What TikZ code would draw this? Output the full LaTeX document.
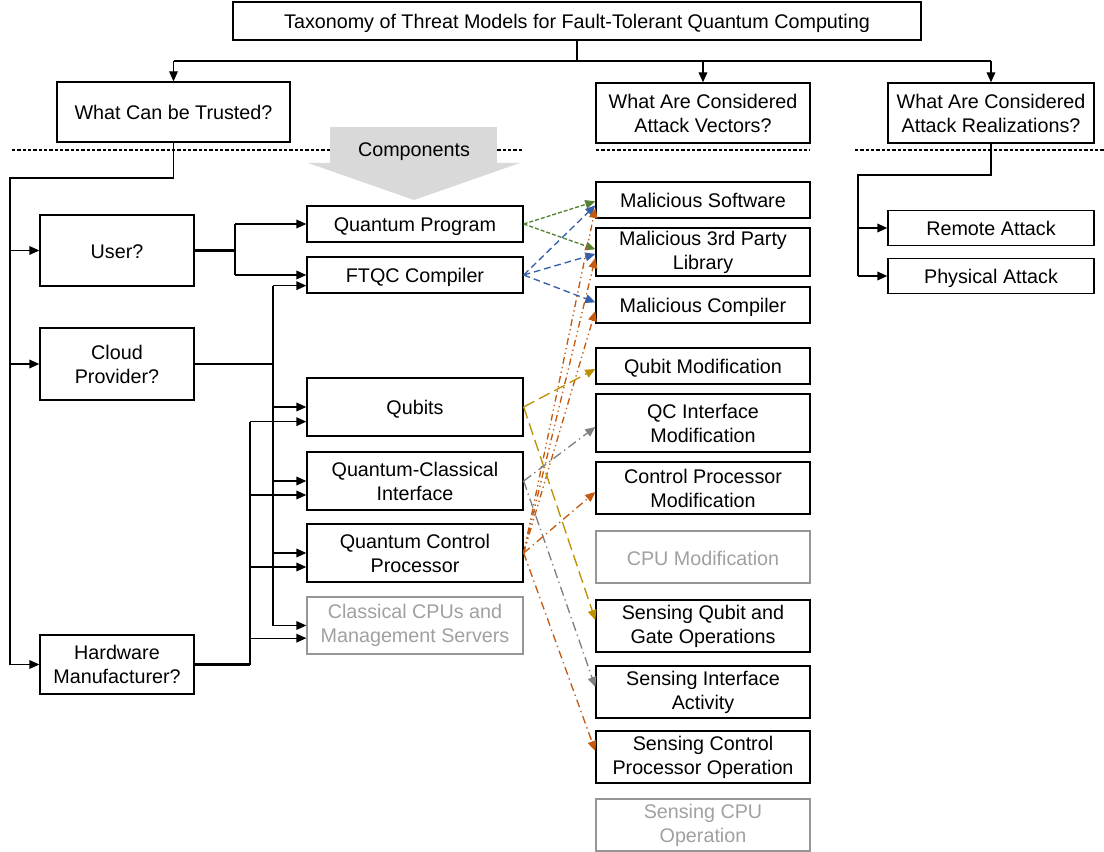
\documentclass[tikz,border=0pt]{standalone}
\usepackage{fontspec}
\setmainfont{Liberation Sans}
\usetikzlibrary{positioning}
\usetikzlibrary{calc}
\usetikzlibrary{arrows.meta}

\definecolor{atkgreen}{RGB}{84,130,53}
\definecolor{atkblue}{RGB}{52,94,170}
\definecolor{atkorange}{RGB}{197,90,17}
\definecolor{atkgold}{RGB}{191,144,0}
\definecolor{atkgrey}{RGB}{128,128,128}
\definecolor{compgrey}{RGB}{217,217,217}
\definecolor{boxgrey}{RGB}{150,150,150}
\definecolor{textgrey}{RGB}{160,160,160}

\tikzset{
	box/.style={draw, line width=1pt, align=center, inner sep=0pt, font=\fontsize{14.8}{18}\selectfont},
	oneline/.style={execute at begin node={\rule{0pt}{15pt}}, execute at end node={\rule[-3pt]{0pt}{3pt}}},
	greybox/.style={box, draw=boxgrey, text=textgrey},
	wire/.style={line width=1pt},
	bus/.style={line width=2pt},
	arr/.style={wire, -{Triangle[length=7.5pt, width=6.5pt]}},
	sep/.style={line width=0.8pt, dash pattern=on 2.5pt off 1.5pt},
	progatk/.style={arr, draw=atkgreen, dash pattern=on 3pt off 1.5pt},
	compatk/.style={arr, draw=atkblue, dash pattern=on 5pt off 3pt},
	qubitatk/.style={arr, draw=atkgold, dash pattern=on 9pt off 4pt},
	ifatk/.style={arr, draw=atkgrey, dash pattern=on 7pt off 3pt on 1pt off 3pt},
	ctrlatk/.style={arr, draw=atkorange, dash pattern=on 5pt off 2.5pt on 1pt off 2.5pt on 1pt off 2.5pt},
	ctrlatkb/.style={arr, draw=atkorange, dash pattern=on 6pt off 3pt on 1pt off 3pt}
}

\begin{document}
\begin{tikzpicture}[x=0.75pt, y=-0.75pt]
		\useasboundingbox (0,0) rectangle (1104,852);
		% top level
		\node[box, oneline, minimum width=516pt, minimum height=28.5pt] (title) at (577,21) {Taxonomy of Threat Models for Fault-Tolerant Quantum Computing};
		\begin{scope}[every node/.style={box, minimum height=45pt}]
			\node[oneline, minimum width=174.75pt] (trust) at (173.5,112) {What Can be Trusted?};
			\node[minimum width=160.5pt] (vectors) at (703,113) {What Are Considered\\Attack Vectors?};
			\node[minimum width=154.5pt] (real) at (991,113) {What Are Considered\\Attack Realizations?};
		\end{scope}
		\draw[sep] (12,150) -- (522,150);
		\draw[sep] (596,150) -- (810,150);
		\draw[sep] (855,150) -- (1104,150);
		% components arrow
		\fill[compgrey] (330,127) rectangle (497,163);
		\fill[compgrey] (308,163) -- (520,163) -- (414,200) -- cycle;
		\node[font=\fontsize{14.8}{18}\selectfont] (comp) at (414,152) {Components};
		% who can be trusted
		\begin{scope}[every node/.style={box, minimum width=115.5pt}]
			\node[oneline, minimum height=53.25pt] (user) at (117,250.5) {User?};
			\node[minimum height=54pt] (cloud) at (117,364) {Cloud\\Provider?};
			\node[minimum height=44.25pt] (hw) at (117,664.5) {Hardware\\Manufacturer?};
		\end{scope}
		% components
		\begin{scope}[every node/.style={box, minimum width=162pt}]
			\node[oneline, minimum height=27pt] (qp) at (415,224) {Quantum Program};
			\node[oneline, minimum height=27pt] (ftqc) at (415,275) {FTQC Compiler};
			\node[oneline, minimum height=43.5pt] (qubits) at (415,407) {Qubits};
			\node[minimum height=43.5pt] (qci) at (415,481) {Quantum-Classical\\Interface};
			\node[minimum height=43.5pt] (qcp) at (415,553) {Quantum Control\\Processor};
			\node[greybox, minimum height=42.75pt] (cpus) at (415,625.5) {Classical CPUs and\\Management Servers};
		\end{scope}
		% attack vectors
		\begin{scope}[every node/.style={box, minimum width=160.5pt}]
			\node[oneline, minimum height=27pt] (msw) at (703,200) {Malicious Software};
			\node[minimum height=36pt] (mlib) at (703,252) {Malicious 3rd Party\\Library};
			\node[oneline, minimum height=27pt] (mcomp) at (703,305) {Malicious Compiler};
			\node[oneline, minimum height=27pt] (qmod) at (703,366) {Qubit Modification};
			\node[minimum height=43.5pt] (qcimod) at (703,423) {QC Interface\\Modification};
			\node[minimum height=39pt] (cpmod) at (703,488) {Control Processor\\Modification};
			\node[greybox, oneline, minimum height=39pt] (cpumod) at (703,557) {CPU Modification};
			\node[minimum height=39pt] (sqg) at (703,626) {Sensing Qubit and\\Gate Operations};
			\node[minimum height=39pt] (sia) at (703,692) {Sensing Interface\\Activity};
			\node[minimum height=39pt] (scp) at (703,757) {Sensing Control\\Processor Operation};
			\node[greybox, minimum height=39pt] (scpu) at (703,825) {Sensing CPU\\Operation};
		\end{scope}
		% attack realizations
		\begin{scope}[every node/.style={box, oneline, minimum width=154.5pt, minimum height=26pt}]
			\node (remote) at (991,228) {Remote Attack};
			\node (phys) [below=9pt of remote] {Physical Attack};
		\end{scope}
		% title tree
		\coordinate (split) at (577,61);
		\draw[wire] (title.south) -- (split);
		\draw[wire] (trust.north |- split) -- (real.north |- split);
		\draw[arr] (trust.north |- split) -- (trust.north);
		\draw[arr] (vectors.north |- split) -- (vectors.north);
		\draw[arr] (real.north |- split) -- (real.north);
		% trust trunk
		\coordinate (trunk) at (10,178);
		\draw[wire] (trust.south) |- (trunk) -- (trunk |- hw.west);
		\draw[arr] (trunk |- user.west) -- (user.west);
		\draw[arr] (trunk |- cloud.west) -- (cloud.west);
		\draw[arr] (trunk |- hw.west) -- (hw.west);
		% user
		\coordinate (userbus) at (235,250.5);
		\draw[bus] (user.east) -- (userbus);
		\draw[wire] (userbus |- qp.west) -- (userbus |- ftqc.west);
		\draw[arr] (userbus |- qp.west) -- (qp.west);
		\draw[arr] (userbus |- ftqc.west) -- (ftqc.west);
		% cloud provider
		\coordinate (cloudbus) at (273,364);
		\coordinate (ftqclow) at ([yshift=-8pt]ftqc.west);
		\draw[bus] (cloud.east) -- (cloudbus);
		\draw[wire] (cloudbus |- ftqclow) -- (cloudbus |- cpus.west);
		\draw[arr] (cloudbus |- ftqclow) -- (ftqclow);
		\draw[arr] (cloudbus |- qubits.west) -- (qubits.west);
		\draw[arr] (cloudbus |- qci.west) -- (qci.west);
		\draw[arr] (cloudbus |- qcp.west) -- (qcp.west);
		\draw[arr] (cloudbus |- cpus.west) -- (cpus.west);
		% hardware manufacturer
		\coordinate (hwbus) at (250,664.5);
		\coordinate (qubitslow) at ([yshift=-11pt]qubits.west);
		\coordinate (qcilow) at ([yshift=-10.5pt]qci.west);
		\coordinate (qcplow) at ([yshift=-10.5pt]qcp.west);
		\coordinate (cpuslow) at ([yshift=-9.5pt]cpus.west);
		\draw[bus] (hw.east) -- (hwbus);
		\draw[wire] (hwbus |- qubitslow) -- (hwbus);
		\draw[arr] (hwbus |- qubitslow) -- (qubitslow);
		\draw[arr] (hwbus |- qcilow) -- (qcilow);
		\draw[arr] (hwbus |- qcplow) -- (qcplow);
		\draw[arr] (hwbus |- cpuslow) -- (cpuslow);
		% realizations
		\coordinate (rtrunk) at (858,175);
		\draw[wire] (real.south) |- (rtrunk) -- (rtrunk |- phys.west);
		\draw[arr] (rtrunk |- remote.west) -- (remote.west);
		\draw[arr] (rtrunk |- phys.west) -- (phys.west);
		% attack vectors per component
		\draw[progatk] (qp.east) -- ([yshift=-1pt]msw.west);
		\draw[progatk] (qp.east) -- ([yshift=2pt]mlib.west);
		\draw[compatk] (ftqc.east) -- ([yshift=-4pt]msw.west);
		\draw[compatk] (ftqc.east) -- ([yshift=-1.5pt]mlib.west);
		\draw[compatk] (ftqc.east) -- ([yshift=2pt]mcomp.west);
		\draw[ctrlatk] (qcp.east) -- ([yshift=-6pt]msw.west);
		\draw[ctrlatk] (qcp.east) -- ([yshift=-4.5pt]mlib.west);
		\draw[ctrlatk] (qcp.east) -- ([yshift=-4.5pt]mcomp.west);
		\draw[qubitatk] (qubits.east) -- ([yshift=-2.25pt]qmod.west);
		\draw[qubitatk] (qubits.east) -- ([yshift=4.5pt]sqg.west);
		\draw[ifatk] (qci.east) -- ([yshift=-3pt]qcimod.west);
		\draw[ifatk] (qci.east) -- ([yshift=3.75pt]sia.west);
		\draw[ctrlatkb] (qcp.east) -- ([yshift=-3pt]cpmod.west);
		\draw[ctrlatkb] (qcp.east) -- ([yshift=4.5pt]scp.west);
	\end{tikzpicture}
\end{document}
